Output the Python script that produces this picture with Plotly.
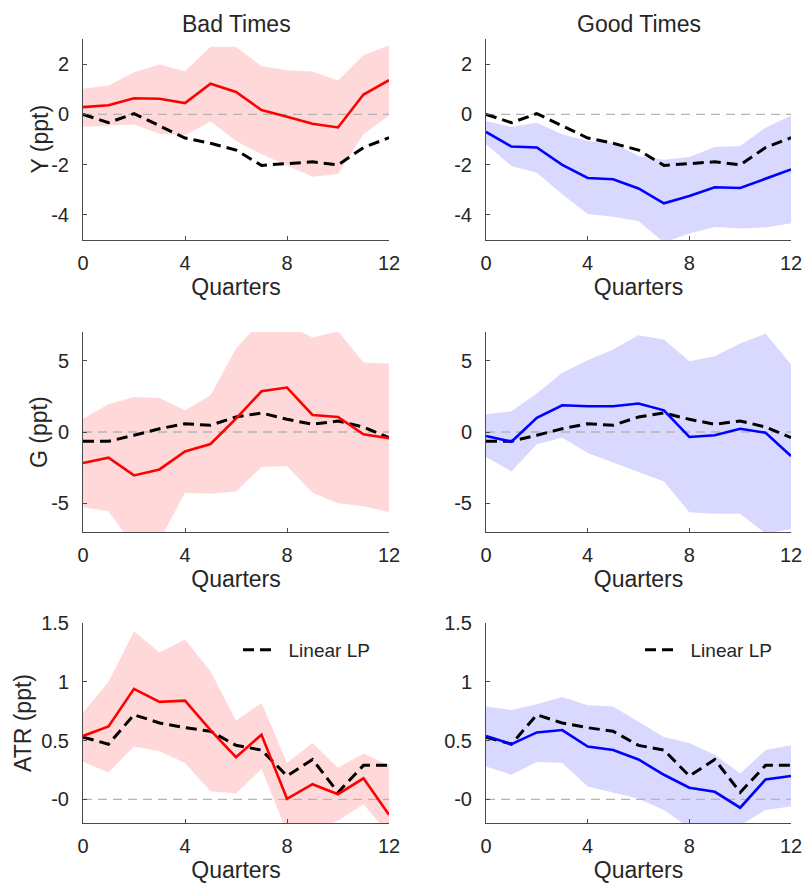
import plotly.graph_objects as go
from plotly.subplots import make_subplots

# Horizon in quarters
quarters = list(range(13))

# Output (Y) responses, ppt
y_bad_irf = [0.29, 0.36, 0.64, 0.62, 0.45, 1.22, 0.89, 0.17, -0.09, -0.37, -0.52, 0.79, 1.36]
y_bad_hi = [1.02, 1.15, 1.68, 1.99, 1.72, 2.69, 2.69, 1.92, 1.76, 1.71, 1.35, 2.36, 2.74]
y_bad_lo = [-0.49, -0.46, -0.40, -0.77, -0.83, -0.28, -1.06, -1.59, -2.05, -2.48, -2.37, -0.79, -0.04]
y_good_irf = [-0.70, -1.28, -1.32, -2.01, -2.53, -2.58, -2.95, -3.54, -3.25, -2.90, -2.93, -2.56, -2.19]
y_good_hi = [-0.26, -0.50, -0.33, -0.79, -1.06, -1.13, -1.66, -1.81, -1.70, -1.30, -1.26, -0.53, -0.04]
y_good_lo = [-1.19, -2.05, -2.32, -3.18, -3.97, -4.07, -4.24, -5.10, -4.74, -4.48, -4.54, -4.50, -4.33]
y_linear = [0.00, -0.33, 0.03, -0.44, -0.94, -1.15, -1.42, -2.03, -1.96, -1.89, -2.01, -1.32, -0.93]

# Government spending (G) responses, ppt
g_bad_irf = [-2.17, -1.80, -3.04, -2.62, -1.36, -0.84, 0.93, 2.85, 3.11, 1.19, 1.05, -0.16, -0.44]
g_bad_hi = [0.93, 1.94, 2.45, 2.38, 1.52, 2.57, 5.84, 7.80, 7.50, 6.61, 7.06, 4.86, 4.79]
g_bad_lo = [-5.26, -5.54, -8.00, -7.60, -4.25, -4.32, -4.16, -2.45, -2.38, -4.25, -4.98, -5.19, -5.61]
g_good_irf = [-0.28, -0.68, 1.00, 1.87, 1.80, 1.80, 1.99, 1.52, -0.35, -0.23, 0.23, -0.05, -1.68]
g_good_hi = [1.24, 1.45, 2.69, 4.14, 5.02, 5.77, 6.78, 6.47, 4.95, 5.30, 6.19, 6.89, 4.72]
g_good_lo = [-1.75, -2.76, -0.86, -0.40, -1.47, -2.10, -2.80, -3.46, -5.61, -5.72, -5.72, -7.10, -6.80]
g_linear = [-0.65, -0.65, -0.23, 0.23, 0.58, 0.47, 1.05, 1.33, 0.89, 0.54, 0.77, 0.35, -0.40]

# Average tax rate (ATR) responses, ppt
atr_bad_irf = [0.54, 0.62, 0.94, 0.83, 0.84, 0.59, 0.36, 0.55, 0.006, 0.13, 0.045, 0.18, -0.13]
atr_bad_hi = [0.74, 1.00, 1.43, 1.25, 1.36, 1.09, 0.67, 0.82, 0.31, 0.48, 0.27, 0.39, 0.29]
atr_bad_lo = [0.32, 0.23, 0.45, 0.41, 0.31, 0.07, 0.05, 0.26, -0.28, -0.26, -0.18, -0.04, -0.30]
atr_good_irf = [0.54, 0.47, 0.57, 0.59, 0.45, 0.42, 0.34, 0.21, 0.10, 0.065, -0.07, 0.17, 0.20]
atr_good_hi = [0.79, 0.76, 0.81, 0.87, 0.80, 0.79, 0.66, 0.53, 0.48, 0.38, 0.22, 0.42, 0.46]
atr_good_lo = [0.28, 0.21, 0.32, 0.31, 0.11, 0.06, 0.006, -0.09, -0.24, -0.24, -0.22, -0.09, -0.06]
atr_linear = [0.53, 0.47, 0.72, 0.65, 0.61, 0.58, 0.46, 0.42, 0.20, 0.34, 0.06, 0.29, 0.29]

column_titles = ["Bad Times", "Good Times"]
row_labels = ["Y (ppt)", "G (ppt)", "ATR (ppt)"]
x_ticks = [0, 4, 8, 12]
y_axes_spec = [
    dict(range=[-5, 3], tickvals=[-4, -2, 0, 2], ticktext=["-4", "-2", "0", "2"]),
    dict(range=[-7, 7], tickvals=[-5, 0, 5], ticktext=["-5", "0", "5"]),
    dict(range=[-0.2, 1.5], tickvals=[0, 0.5, 1, 1.5], ticktext=["-0", "0.5", "1", "1.5"]),
]

panels = [
    [(y_bad_irf, y_bad_lo, y_bad_hi, y_linear), (y_good_irf, y_good_lo, y_good_hi, y_linear)],
    [(g_bad_irf, g_bad_lo, g_bad_hi, g_linear), (g_good_irf, g_good_lo, g_good_hi, g_linear)],
    [(atr_bad_irf, atr_bad_lo, atr_bad_hi, atr_linear), (atr_good_irf, atr_good_lo, atr_good_hi, atr_linear)],
]

line_colors = ["#ff0000", "#0000ff"]
band_colors = ["rgb(255,217,217)", "rgb(217,217,255)"]

FONT = "Liberation Sans, Arial, Helvetica, sans-serif"
TEXT = "#262626"
AXIS = "#4a4a4a"

W, H = 807, 886
x_dom = [[83 / W, 389 / W], [486 / W, 791 / W]]
y_px = [(39, 240), (332, 532), (623, 823)]
y_dom = [[1 - b / H, 1 - t / H] for t, b in y_px]
# horizontal centre (px) of each row's rotated label
label_x_px = [39, 39, 23]

fig = make_subplots(rows=3, cols=2)

for r in range(3):
    for c in range(2):
        irf, lo, hi, lin = panels[r][c]
        # confidence band
        fig.add_trace(go.Scatter(
            x=quarters + quarters[::-1], y=hi + lo[::-1],
            fill="toself", fillcolor=band_colors[c], line=dict(width=0),
            mode="lines", hoverinfo="skip", showlegend=False,
        ), row=r + 1, col=c + 1)
        # zero reference
        fig.add_trace(go.Scatter(
            x=[quarters[0], quarters[-1]], y=[0, 0], mode="lines",
            line=dict(color="#b4b4b4", width=1.3, dash="9px,6px"),
            hoverinfo="skip", showlegend=False,
        ), row=r + 1, col=c + 1)
        # linear LP benchmark
        show = r == 2
        fig.add_trace(go.Scatter(
            x=quarters, y=lin, mode="lines", name="\u00a0\u00a0Linear LP",
            line=dict(color="black", width=3, dash="11px,6px"),
            showlegend=show, legend="legend" if c == 0 else "legend2",
        ), row=r + 1, col=c + 1)
        # state-dependent response
        fig.add_trace(go.Scatter(
            x=quarters, y=irf, mode="lines",
            line=dict(color=line_colors[c], width=2.6),
            showlegend=False,
        ), row=r + 1, col=c + 1)

        fig.update_xaxes(
            domain=x_dom[c], range=[0, 12], tickvals=x_ticks,
            ticks="inside", ticklen=4, tickcolor=AXIS, showline=True,
            linecolor=AXIS, linewidth=1, showgrid=False, zeroline=False,
            tickfont=dict(size=20, color=TEXT), ticklabelstandoff=5,
            title=dict(text="Quarters", font=dict(size=23, color=TEXT), standoff=5),
            automargin=False,
            row=r + 1, col=c + 1,
        )
        spec = y_axes_spec[r]
        fig.update_yaxes(
            domain=y_dom[r], range=spec["range"], tickvals=spec["tickvals"],
            ticktext=spec["ticktext"],
            ticks="inside", ticklen=4, tickcolor=AXIS, showline=True,
            linecolor=AXIS, linewidth=1, showgrid=False, zeroline=False,
            tickfont=dict(size=20, color=TEXT), ticklabelstandoff=9,
            automargin=False,
            row=r + 1, col=c + 1,
        )

    # row label on the left column
    fig.add_annotation(
        text=row_labels[r], xref="paper", yref="paper",
        x=label_x_px[r] / W, y=sum(y_dom[r]) / 2, textangle=-90,
        xanchor="center", yanchor="middle", showarrow=False,
        font=dict(size=23, color=TEXT, family=FONT),
    )

for c, title in enumerate(column_titles):
    fig.add_annotation(
        text=title, xref="paper", yref="paper",
        x=(x_dom[c][0] + x_dom[c][1]) / 2, y=1 - 24 / H,
        xanchor="center", yanchor="middle", showarrow=False,
        font=dict(size=23, color=TEXT, family=FONT),
    )

legend_style = dict(
    bgcolor="rgba(0,0,0,0)", borderwidth=0, yanchor="middle",
    font=dict(size=19, color=TEXT, family=FONT), itemwidth=30,
)
fig.update_layout(
    width=W, height=H,
    margin=dict(l=0, r=0, t=0, b=0),
    paper_bgcolor="white", plot_bgcolor="white",
    font=dict(family=FONT, color=TEXT),
    legend=dict(x=238 / W, y=1 - 650 / H, **legend_style),
    legend2=dict(x=640 / W, y=1 - 650 / H, **legend_style),
)

fig.write_html("out.html", post_script="document.body.style.margin='0';")
